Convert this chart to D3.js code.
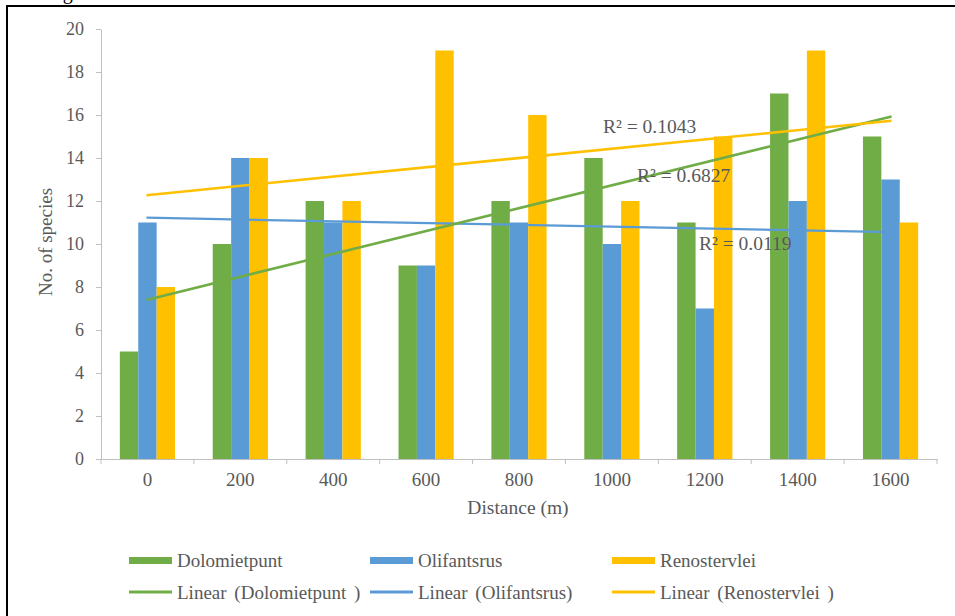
<!DOCTYPE html>
<html>
<head>
<meta charset="utf-8">
<script src="https://cdn.jsdelivr.net/npm/d3@7"></script>
<style>
  html, body { margin: 0; padding: 0; background: #fff; }
  svg { display: block; }
  text { font-family: "Liberation Serif", "Times New Roman", serif; fill: #595959; }
</style>
</head>
<body>
<svg id="chart" width="955" height="616"></svg>
<script>
const categories = ["0", "200", "400", "600", "800", "1000", "1200", "1400", "1600"];
const seriesNames = ["Dolomietpunt", "Olifantsrus", "Renostervlei"];
const dolomietpunt = [5, 10, 12, 9, 12, 14, 11, 17, 15];
const olifantsrus  = [11, 14, 11, 9, 11, 10, 7, 12, 13];
const renostervlei = [8, 14, 12, 19, 16, 12, 15, 19, 11];
const yTicks = [0, 2, 4, 6, 8, 10, 12, 14, 16, 18, 20];
const trendNames = ["Linear (Dolomietpunt )", "Linear (Olifantsrus)", "Linear (Renostervlei )"];

const colors = ["#70AD47", "#5B9BD5", "#FFC000"];
const seriesValues = [dolomietpunt, olifantsrus, renostervlei];

const svg = d3.select("#chart");

// frame
svg.append("path").attr("d", "M7,616V6H955").attr("fill", "none").attr("stroke", "#000").attr("stroke-width", 2);
svg.append("text").attr("x", 46).attr("y", -1.5).attr("font-size", 20)
  .style("fill", "#000").text("Figure");

const x0 = d3.scaleBand().domain(categories).range([101, 937]).paddingInner(0).paddingOuter(0);
const groupPad = (x0.bandwidth() - 3 * 18.4) / 2;
const x1 = d3.scaleBand().domain(d3.range(3)).range([groupPad, x0.bandwidth() - groupPad]);
const y = d3.scaleLinear().domain([0, 20]).range([459, 29]);

// y axis
const yAxis = svg.append("g").attr("transform", "translate(101,0)")
  .call(d3.axisLeft(y).tickValues(yTicks).tickSize(5).tickPadding(12).tickSizeOuter(0));
yAxis.select(".domain").attr("stroke", "#bfbfbf");
yAxis.selectAll(".tick line").attr("stroke", "#bfbfbf");
yAxis.selectAll(".tick text").attr("font-size", 18).attr("font-family", "Liberation Serif").style("fill", "#595959");

// bars
seriesValues.forEach((vals, si) => {
  svg.append("g").selectAll("rect").data(vals).join("rect")
    .attr("x", (d, i) => x0(categories[i]) + x1(si))
    .attr("y", d => y(d))
    .attr("width", x1.bandwidth())
    .attr("height", d => y(0) - y(d))
    .attr("fill", colors[si]);
});

// x axis
const xAxis = svg.append("g").attr("transform", "translate(0,459)")
  .call(d3.axisBottom(x0).tickSize(0).tickPadding(14));
xAxis.select(".domain").attr("stroke", "#bfbfbf");
xAxis.selectAll(".tick text").attr("font-size", 19).attr("font-family", "Liberation Serif").style("fill", "#595959");
// category boundary ticks
svg.append("g").selectAll("line").data(d3.range(categories.length + 1)).join("line")
  .attr("x1", i => 101 + i * x0.step()).attr("x2", i => 101 + i * x0.step())
  .attr("y1", 459).attr("y2", 464).attr("stroke", "#bfbfbf");

// trendlines (least squares over category index)
function regress(vals) {
  const n = vals.length;
  const xs = d3.range(1, n + 1);
  const mx = d3.mean(xs), my = d3.mean(vals);
  let sxy = 0, sxx = 0, syy = 0;
  xs.forEach((xv, i) => { sxy += (xv - mx) * (vals[i] - my); sxx += (xv - mx) ** 2; syy += (vals[i] - my) ** 2; });
  const slope = sxy / sxx, icpt = my - slope * mx;
  return { slope, icpt, r2: (sxy * sxy) / (sxx * syy) };
}
const cx = i => x0(categories[i]) + x0.bandwidth() / 2;
const fits = seriesValues.map(regress);
const drawOrder = [1, 0, 2];
const widths = [2.6, 2.2, 2.6];
drawOrder.forEach(si => {
  const f = fits[si];
  const n = categories.length;
  svg.append("line")
    .attr("x1", cx(0) - 1).attr("y1", y(f.icpt + f.slope * 1))
    .attr("x2", cx(n - 1) + 1).attr("y2", y(f.icpt + f.slope * n))
    .attr("stroke", colors[si]).attr("stroke-width", widths[si]);
});

// R² labels
const r2Pos = [[637, 182], [699, 250], [603, 133]];
fits.forEach((f, si) => {
  svg.append("text").attr("x", r2Pos[si][0]).attr("y", r2Pos[si][1]).attr("font-size", 19.5)
    .text("R² = " + f.r2.toFixed(4));
});

// axis titles
svg.append("text").attr("transform", "translate(52,242) rotate(-90)").attr("text-anchor", "middle")
  .attr("font-size", 19).text("No. of species");
svg.append("text").attr("x", 518).attr("y", 514).attr("text-anchor", "middle")
  .attr("font-size", 19.5).text("Distance (m)");

// legend
const legX = [129, 370, 612];
const legTextX = [177, 418, 660];
seriesNames.forEach((name, si) => {
  svg.append("rect").attr("x", legX[si]).attr("y", 557).attr("width", 43).attr("height", 7).attr("fill", colors[si]);
  svg.append("text").attr("x", legTextX[si]).attr("y", 567).attr("font-size", 19).text(name);
});
trendNames.forEach((name, si) => {
  svg.append("line").attr("x1", legX[si]).attr("x2", legX[si] + 43).attr("y1", 592).attr("y2", 592)
    .attr("stroke", colors[si]).attr("stroke-width", 3);
  svg.append("text").attr("x", legTextX[si]).attr("y", 599).attr("font-size", 19).attr("word-spacing", 3).text(name);
});
</script>
</body>
</html>
